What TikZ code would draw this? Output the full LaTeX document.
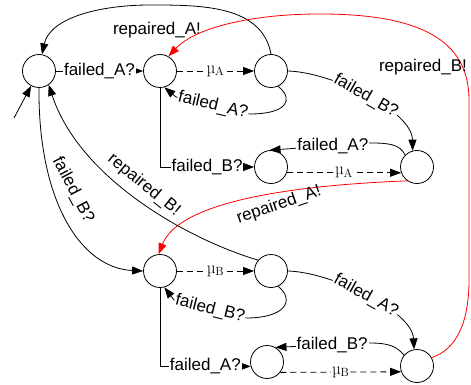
\documentclass[tikz,border=0pt]{standalone}
\usepackage{fontspec}
\setsansfont{Liberation Sans}
\usetikzlibrary{arrows.meta}

\begin{document}
\begin{tikzpicture}[x=1pt,y=-1pt,line width=0.8pt,>={Triangle[length=11pt,width=8pt]},
  loc/.style={circle,draw,minimum size=33pt,inner sep=0pt},
  lbl/.style={font=\sffamily\fontsize{17}{20}\selectfont,inner sep=1pt},
  onedge/.style={lbl,fill=white},
  rate/.style={font=\rmfamily\fontsize{17}{20}\selectfont,fill=white,inner sep=1pt},
  delay/.style={dash pattern=on 6pt off 4pt}]
\useasboundingbox (0,0) rectangle (471,385);

\node[loc] (n0) at (39,71) {};
\node[loc] (n1) at (160,71) {};
\node[loc] (n2) at (271,71) {};
\node[loc] (n3) at (417,167) {};
\node[loc] (n4) at (271,167) {};
\node[loc] (n5) at (160,271) {};
\node[loc] (n6) at (271,271) {};
\node[loc] (n7) at (267,362) {};
\node[loc] (n8) at (417,366) {};
\coordinate (init) at (14,118);

\draw[->] (init) -- (n0);

% component A fails first
\draw[->] (n0) -- node[onedge] {failed\_A?} (n1);
\draw[->,delay] (n1) -- node[rate] {\char"00B5$_\mathrm{A}$} (n2);
\draw[->] (n2.-65) .. controls (295,100) and (286,114) .. (250,114) -- node[onedge,sloped] {failed\_A?} (176,97) -- (n1.-75);
\draw[->] (n2.north) .. controls (262,5) and (201,5) .. (150,5) .. controls (99,5) and (50,18) .. (n0.80);
\node[lbl] at (157,30) {repaired\_A!};
\draw[->] (n2.east) .. controls (330,72) and (412,110) .. (n3.105) node[onedge,sloped,pos=0.5] {failed\_B?};
\draw[->] (n3.135) .. controls (400,144) and (388,143) .. (370,143) -- node[onedge,pos=0.37] {failed\_A?} (n4.95);
\draw[->,delay] (n4.-20) -- node[rate] {\char"00B5$_\mathrm{A}$} (n3.-160);
\draw[->] (n1.south) |- node[onedge,pos=0.75] {failed\_B?} (n4.west);
\draw[->,red] (n3.-125) .. controls (300,185) and (180,200) .. (n5.95);
\node[lbl,rotate=19] at (279,205) {repaired\_A!};

% component B fails first
\draw[->] (n0.south) .. controls (38,200) and (80,268) .. (n5.west);
\node[lbl,rotate=-62] at (73,190) {failed\_B?};
\draw[->] (n6.140) .. controls (190,240) and (80,180) .. (n0.-55);
\node[lbl,rotate=-39] at (144,185) {repaired\_B!};
\draw[->,delay] (n5.east) -- node[rate] {\char"00B5$_\mathrm{B}$} (n6.west);
\draw[->] (n6.-65) .. controls (295,300) and (286,318) .. (246,318) -- node[onedge,sloped] {failed\_B?} (174,300) -- (n5.-75);
\draw[->] (n6.east) .. controls (330,272) and (412,310) .. (n8.100) node[onedge,sloped,pos=0.5] {failed\_A?};
\draw[->] (n8.140) .. controls (397,347) and (390,343) .. (370,343) -- node[onedge,pos=0.4] {failed\_B?} (n7.60);
\draw[->,delay] (n7.-38) -- node[rate] {\char"00B5$_\mathrm{B}$} (n8.-160);
\draw[->] (n5.south) |- node[onedge,pos=0.75] {failed\_A?} (n7.-165);
\draw[->,red] (n8.30) .. controls (455,350) and (469,325) .. (469,280) -- (469,100) .. controls (469,40) and (420,14) .. (320,14) .. controls (250,14) and (195,28) .. (n1.60);
\node[lbl] at (423,67) {repaired\_B!};
\end{tikzpicture}
\end{document}
